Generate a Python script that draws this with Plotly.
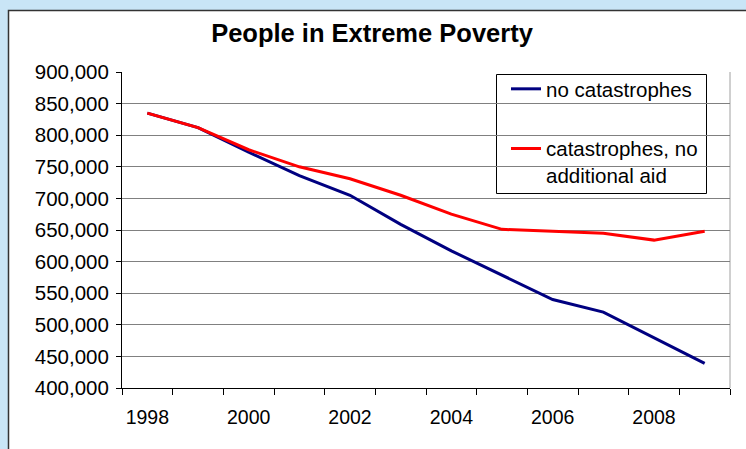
import plotly.graph_objects as go

years = [1998, 1999, 2000, 2001, 2002, 2003, 2004, 2005, 2006, 2007, 2008, 2009]
no_catastrophes = [835000, 812000, 773000, 736000, 705000, 659000, 617000, 579000, 540000, 520000, 480000, 439000]
catastrophes_no_aid = [835000, 812000, 777000, 750000, 731000, 705000, 675000, 651000, 648000, 645000, 634000, 648000]
tick_years = [1998, 2000, 2002, 2004, 2006, 2008]

W, H = 746, 449
L, R, T, B = 122, 730, 72, 388  # plot area in px
pw, ph = R - L, B - T

def px_x(p):
    return (p - L) / pw

def px_y(p):
    return (B - p) / ph

idx = list(range(len(years)))
font = "Liberation Sans, Arial, sans-serif"

fig = go.Figure()
fig.add_trace(go.Scatter(x=idx, y=no_catastrophes, mode="lines", name="no catastrophes",
                         line=dict(color="#000080", width=3), legendgroup="a"))
fig.add_trace(go.Scatter(x=idx, y=catastrophes_no_aid, mode="lines",
                         name="catastrophes, no<br>additional aid",
                         line=dict(color="#ff0000", width=3), legendgroup="b"))

# chart area (white box with dark border) on light blue slide background
fig.add_shape(type="rect", xref="paper", yref="paper", layer="below",
              x0=px_x(8.5), x1=px_x(780), y0=px_y(480), y1=px_y(10.5),
              fillcolor="white", line=dict(color="#333333", width=1.5))
# right border of the plot area
fig.add_shape(type="line", xref="paper", yref="paper", layer="below",
              x0=1, x1=1, y0=0, y1=1, line=dict(color="#a0a0a0", width=1))
# legend frame
fig.add_shape(type="rect", xref="paper", yref="paper", layer="between",
              x0=px_x(496.5), x1=px_x(706.5), y0=px_y(193.5), y1=px_y(74.5),
              fillcolor="white", line=dict(color="black", width=1))

fig.update_layout(
    width=W, height=H,
    margin=dict(l=L, r=W - R, t=T, b=H - B, pad=0, autoexpand=False),
    paper_bgcolor="#c9e5f6",
    plot_bgcolor="white",
    font=dict(family=font, size=19, color="black"),
    title=dict(text="<b>People in Extreme Poverty</b>", x=372 / W, xanchor="center",
               y=1 - 33 / H, yanchor="middle", automargin=False,
               font=dict(size=25.5, family=font, color="black")),
    showlegend=True,
    legend=dict(x=px_x(506), y=px_y(69), xanchor="left", yanchor="top",
                bgcolor="rgba(0,0,0,0)", borderwidth=0,
                font=dict(size=20.5, family=font, color="black"),
                traceorder="grouped", tracegroupgap=30, valign="top"),
)

fig.update_xaxes(
    range=[-0.5, len(years) - 0.5],
    tickmode="array",
    tickvals=[years.index(y) for y in tick_years],
    ticktext=[str(y) for y in tick_years],
    ticks="",
    showgrid=False,
    zeroline=False,
    automargin=False,
    showline=True, linecolor="black", linewidth=1,
    minor=dict(tickmode="linear", tick0=-0.5, dtick=1, ticks="outside", ticklen=6,
               tickcolor="black", showgrid=False),
    ticklabelstandoff=12,
    tickfont=dict(size=19.5),
)
fig.update_yaxes(
    range=[400000, 900000],
    dtick=50000,
    tickformat=",",
    ticks="outside", ticklen=5, tickcolor="black",
    showgrid=True, gridcolor="#808080", gridwidth=1,
    zeroline=False,
    automargin=False,
    showline=True, linecolor="black", linewidth=1,
    ticklabelstandoff=3,
    tickfont=dict(size=20.5),
)

fig.write_html("out.html", config={"displayModeBar": False},
               post_script="document.body.style.margin='0';document.body.style.overflow='hidden';")
